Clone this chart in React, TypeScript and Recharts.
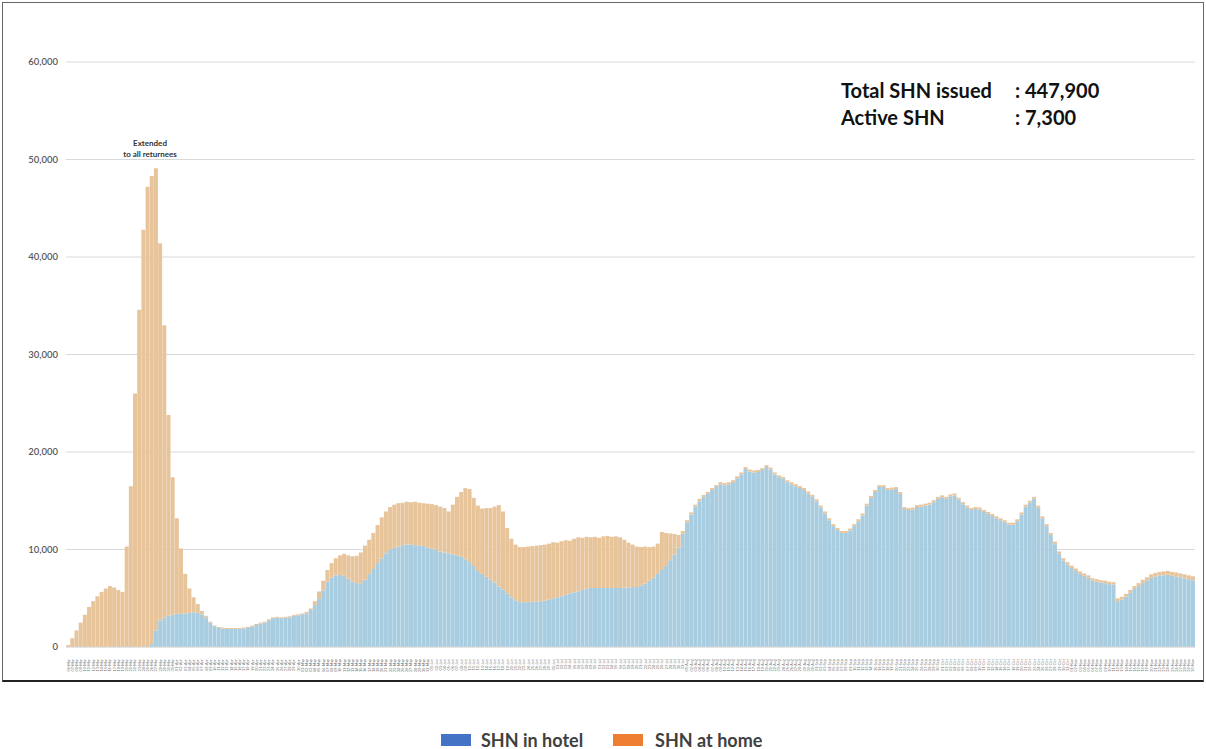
import { BarChart, Bar, XAxis, YAxis, CartesianGrid } from 'recharts';

// daily SHN counts (one bar per day)
const hotel = [
  0, 0, 0, 0, 0, 0, 0, 0, 0, 0,
  0, 0, 0, 0, 0, 0, 0, 0, 0, 0,
  300, 1700, 2700, 3000, 3200, 3300, 3400, 3400, 3450, 3500,
  3550, 3550, 3350, 3050, 2500, 2150, 1950, 1900, 1850, 1850,
  1850, 1850, 1900, 1950, 2100, 2250, 2400, 2500, 2750, 2950,
  3000, 2950, 3000, 3050, 3200, 3250, 3350, 3450, 3800, 4300,
  5000, 5800, 6700, 7100, 7350, 7400, 7300, 7000, 6700, 6550,
  6550, 6900, 7500, 8000, 8600, 9100, 9600, 9950, 10150, 10300,
  10450, 10500, 10500, 10450, 10400, 10350, 10200, 10100, 10000, 9800,
  9700, 9600, 9500, 9400, 9250, 9000, 8700, 8300, 7800, 7500,
  7200, 6900, 6600, 6200, 5900, 5500, 5100, 4800, 4600, 4600,
  4600, 4650, 4650, 4700, 4750, 4850, 5000, 5100, 5200, 5350,
  5500, 5600, 5700, 5850, 6000, 6050, 6050, 6050, 6050, 6050,
  6050, 6050, 6050, 6100, 6100, 6150, 6150, 6300, 6500, 6800,
  7100, 7500, 7900, 8300, 8900, 9500, 10200, 11600, 12800, 13600,
  14400, 14950, 15400, 15700, 16100, 16400, 16700, 16600, 16700, 16900,
  17300, 17700, 18250, 18000, 17900, 17950, 18150, 18450, 18200, 17700,
  17400, 17250, 16900, 16700, 16500, 16300, 16100, 15750, 15400, 14950,
  14300, 13700, 13000, 12400, 12000, 11700, 11700, 11950, 12400, 12900,
  13500, 14500, 15300, 15900, 16400, 16400, 16100, 16150, 16200, 15700,
  14150, 14050, 14100, 14350, 14400, 14500, 14600, 14850, 15200, 15350,
  15200, 15450, 15550, 15100, 14650, 14300, 14050, 14150, 14100, 13850,
  13650, 13450, 13200, 13000, 12800, 12550, 12550, 12900, 13600, 14400,
  14800, 15200, 14300, 13200, 12400, 11500, 10550, 9550, 8850, 8450,
  8100, 7800, 7500, 7300, 7100, 6800, 6700, 6600, 6550, 6450,
  6400, 4700, 4850, 5150, 5550, 5950, 6250, 6550, 6800, 7100,
  7250, 7350, 7350, 7400, 7300, 7250, 7150, 7050, 6950, 6850,
];

const home = [
  200, 900, 1700, 2500, 3300, 4100, 4700, 5200, 5650, 6000,
  6250, 6100, 5850, 5650, 10300, 16500, 26000, 34600, 42800, 47200,
  48000, 47400, 38700, 30000, 20600, 14100, 9800, 6700, 4050, 2500,
  1550, 850, 350, 150, 100, 50, 100, 100, 100, 100,
  100, 100, 100, 100, 100, 100, 100, 100, 100, 100,
  100, 100, 100, 100, 100, 100, 100, 150, 150, 400,
  700, 1000, 1200, 1500, 1750, 2000, 2250, 2400, 2600, 2800,
  3150, 3500, 3500, 3700, 3900, 4200, 4300, 4400, 4450, 4450,
  4350, 4400, 4350, 4450, 4400, 4400, 4500, 4550, 4550, 4600,
  4550, 4300, 5100, 6000, 6650, 7300, 7500, 7000, 6700, 6700,
  7050, 7350, 7800, 8350, 8000, 6700, 6000, 5700, 5650, 5650,
  5700, 5700, 5750, 5750, 5750, 5750, 5750, 5600, 5650, 5600,
  5400, 5500, 5550, 5350, 5300, 5200, 5250, 5150, 5300, 5350,
  5250, 5300, 5200, 4900, 4600, 4350, 4150, 3950, 3800, 3450,
  3200, 3100, 3900, 3400, 2750, 2100, 1300, 300, 200, 200,
  200, 250, 200, 200, 200, 200, 200, 200, 200, 200,
  200, 200, 200, 200, 200, 200, 200, 200, 200, 200,
  200, 200, 200, 200, 200, 200, 200, 200, 200, 200,
  200, 200, 200, 200, 200, 200, 200, 200, 200, 200,
  200, 200, 200, 200, 200, 200, 200, 200, 200, 200,
  200, 200, 200, 200, 200, 200, 200, 200, 200, 200,
  200, 200, 200, 200, 200, 200, 200, 200, 200, 200,
  200, 200, 200, 200, 200, 200, 200, 200, 200, 200,
  200, 200, 200, 200, 200, 200, 250, 250, 250, 250,
  250, 250, 250, 250, 250, 250, 250, 250, 250, 250,
  250, 300, 300, 300, 300, 300, 300, 350, 350, 350,
  350, 350, 400, 400, 400, 400, 400, 400, 400, 400,
];

const yTicks = [0, 10000, 20000, 30000, 40000, 50000, 60000];
const months = ['Jan', 'Feb', 'Mar', 'Apr', 'May', 'Jun', 'Jul', 'Aug', 'Sep', 'Oct', 'Nov', 'Dec'];

// one date label per bar, starting 6 Mar 2020
const dates = hotel.map((_, i) => {
  const d = new Date(2020, 2, 6 + i);
  return `${String(d.getDate()).padStart(2, '0')}-${months[d.getMonth()]}`;
});

const data = dates.map((date, i) => ({ date, hotel: hotel[i], home: home[i] }));

const DateTick = ({ x, y, payload }: any) => (
  <text
    x={x}
    y={y + 4}
    transform={`rotate(-90 ${x} ${y + 4})`}
    textAnchor="end"
    dominantBaseline="central"
    fontSize={3.8}
    fill="#7a7a7a"
  >
    {payload.value}
  </text>
);

export default function App() {
  return (
    <div style={{ position: 'absolute', left: 0, top: 0, width: 1206, height: 749, background: '#fff', fontFamily: 'Lato, "Open Sans", sans-serif' }}>
      <div style={{ position: 'absolute', left: 2, top: 2, width: 1200, height: 677, borderTop: '1px solid #666', borderLeft: '1px solid #666', borderRight: '1px solid #666', borderBottom: '2px solid #222' }} />

      <div style={{ position: 'absolute', left: 0, top: 0 }}>
        <BarChart
          width={1206}
          height={680}
          data={data}
          margin={{ top: 62, right: 11, bottom: 0, left: 0 }}
          barCategoryGap="3%"
        >
          <CartesianGrid vertical={false} stroke="#d9d9d9" />
          <XAxis
            dataKey="date"
            interval={0}
            height={33}
            tick={DateTick}
            tickLine={false}
            axisLine={{ stroke: '#d9d9d9' }}
          />
          <YAxis
            width={66}
            domain={[0, 60000]}
            ticks={yTicks}
            tickFormatter={(v: number) => v.toLocaleString('en-US')}
            tick={{ fontSize: 9.5, fill: '#595959', fontWeight: 600 }}
            tickLine={false}
            axisLine={false}
          />
          <Bar dataKey="hotel" name="SHN in hotel" stackId="shn" fill="#a9cde0" isAnimationActive={false} />
          <Bar dataKey="home" name="SHN at home" stackId="shn" fill="#e8c49b" isAnimationActive={false} />
        </BarChart>
      </div>

      {/* annotation over the spike */}
      <div style={{ position: 'absolute', left: 100, top: 138, width: 100, textAlign: 'center', fontSize: 8, fontWeight: 700, color: '#333', lineHeight: '11px' }}>
        Extended<br />to all returnees
      </div>

      {/* totals box */}
      <div style={{ position: 'absolute', left: 841, top: 77, fontSize: 20, fontWeight: 700, color: '#111', lineHeight: '27px' }}>
        <div style={{ display: 'flex' }}>
          <span style={{ width: 174 }}>Total SHN issued</span>
          <span>: 447,900</span>
        </div>
        <div style={{ display: 'flex' }}>
          <span style={{ width: 174 }}>Active SHN</span>
          <span>: 7,300</span>
        </div>
      </div>

      {/* legend */}
      <div style={{ position: 'absolute', left: 441, top: 729, display: 'flex', alignItems: 'center', fontSize: 18, fontWeight: 700, color: '#404040' }}>
        <span style={{ width: 30, height: 12, background: '#4472c4', display: 'inline-block', marginRight: 10 }} />
        <span style={{ marginRight: 30 }}>SHN in hotel</span>
        <span style={{ width: 30, height: 12, background: '#ed7d31', display: 'inline-block', marginRight: 12 }} />
        <span>SHN at home</span>
      </div>
    </div>
  );
}
